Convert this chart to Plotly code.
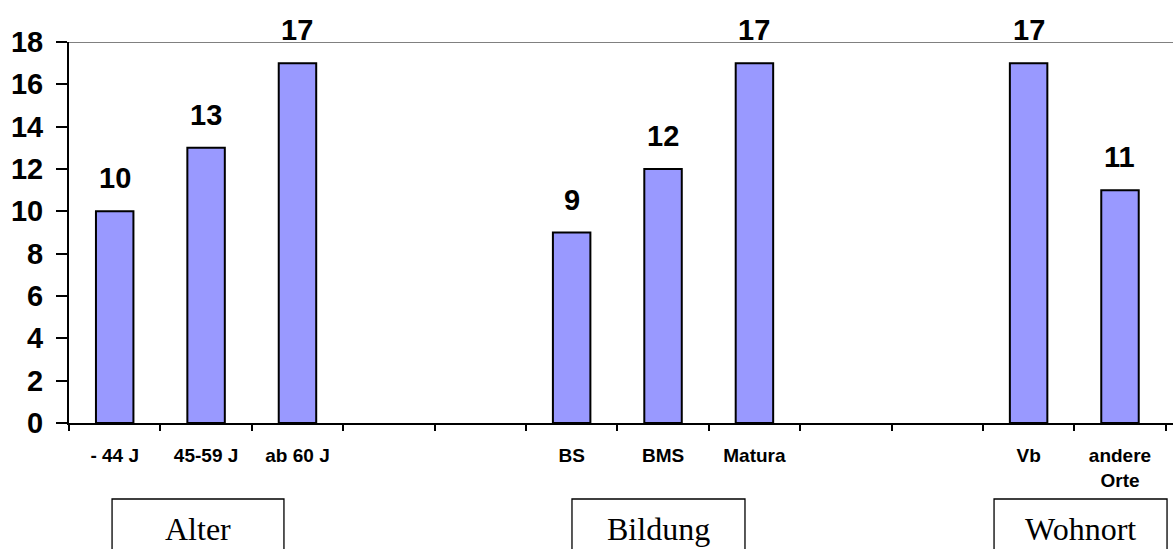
import plotly.graph_objects as go

# Categories along the x axis; empty strings are the spacer slots between groups
categories = ["- 44 J", "45-59 J", "ab 60 J", "", "",
              "BS", "BMS", "Matura", "", "",
              "Vb", "andere<br>Orte"]
values = [10, 13, 17, None, None, 9, 12, 17, None, None, 17, 11]

# Group captions under the axis
group_names = ["Alter", "Bildung", "Wohnort"]

y_ticks = list(range(0, 19, 2))

positions = list(range(len(categories)))
bar_pos = [p for p, v in zip(positions, values) if v is not None]
bar_val = [v for v in values if v is not None]
bar_lbl = [c for c, v in zip(categories, values) if v is not None]

fig = go.Figure()
fig.add_trace(go.Bar(
    x=bar_pos, y=bar_val, width=0.41,
    marker=dict(color="#9999FF", line=dict(color="black", width=2)),
    hoverinfo="skip", showlegend=False,
))

# Value labels above the bars
for p, v in zip(bar_pos, bar_val):
    fig.add_annotation(x=p, y=v, text=f"<b>{v}</b>", showarrow=False,
                       yanchor="middle", yshift=33,
                       font=dict(family="Liberation Sans, Arial", size=29, color="black"))

# Top border line of the plot area
fig.add_shape(type="line", xref="paper", yref="y", x0=0, x1=1, y0=18, y1=18,
              line=dict(color="#808080", width=2))

# Group caption boxes
box_x = [(0.039, 0.1947), (0.4556, 0.6123), (0.8379, 0.9946)]
for name, (x0, x1) in zip(group_names, box_x):
    fig.add_shape(type="rect", xref="paper", yref="paper",
                  x0=x0, x1=x1, y0=-0.1995, y1=-0.40,
                  line=dict(color="black", width=1.3), fillcolor="white")
    fig.add_annotation(xref="paper", yref="paper", x=(x0 + x1) / 2, y=-0.278,
                       text=name, showarrow=False, xanchor="center", yanchor="middle",
                       font=dict(family="Liberation Serif, Times New Roman", size=32, color="black"))

fig.update_xaxes(
    range=[-0.5, 11.58],
    tickvals=bar_pos, ticktext=[f"<b>{t}</b>" for t in bar_lbl],
    ticks="", ticklabelstandoff=14,
    tickfont=dict(family="Liberation Sans, Arial", size=19, color="black"),
    minor=dict(tickvals=[p - 0.5 for p in positions] + [11.5], ticks="outside",
               ticklen=6, tickwidth=2, tickcolor="black"),
    showline=True, linecolor="black", linewidth=2,
    showgrid=False, zeroline=False, fixedrange=True,
)
fig.update_yaxes(
    range=[0, 18], tickvals=y_ticks, ticktext=[f"<b>{t}</b>" for t in y_ticks],
    ticks="outside", ticklen=11, tickwidth=2, tickcolor="black",
    ticklabelstandoff=7,
    tickfont=dict(family="Liberation Sans, Arial", size=29, color="black"),
    showline=True, linecolor="black", linewidth=2,
    showgrid=False, zeroline=False, fixedrange=True,
)

fig.update_layout(
    width=1173, height=549,
    margin=dict(l=69, r=0, t=42, b=126),
    paper_bgcolor="white", plot_bgcolor="white",
    bargap=0.59,
)

fig.write_html("out.html", config={"displayModeBar": False})
